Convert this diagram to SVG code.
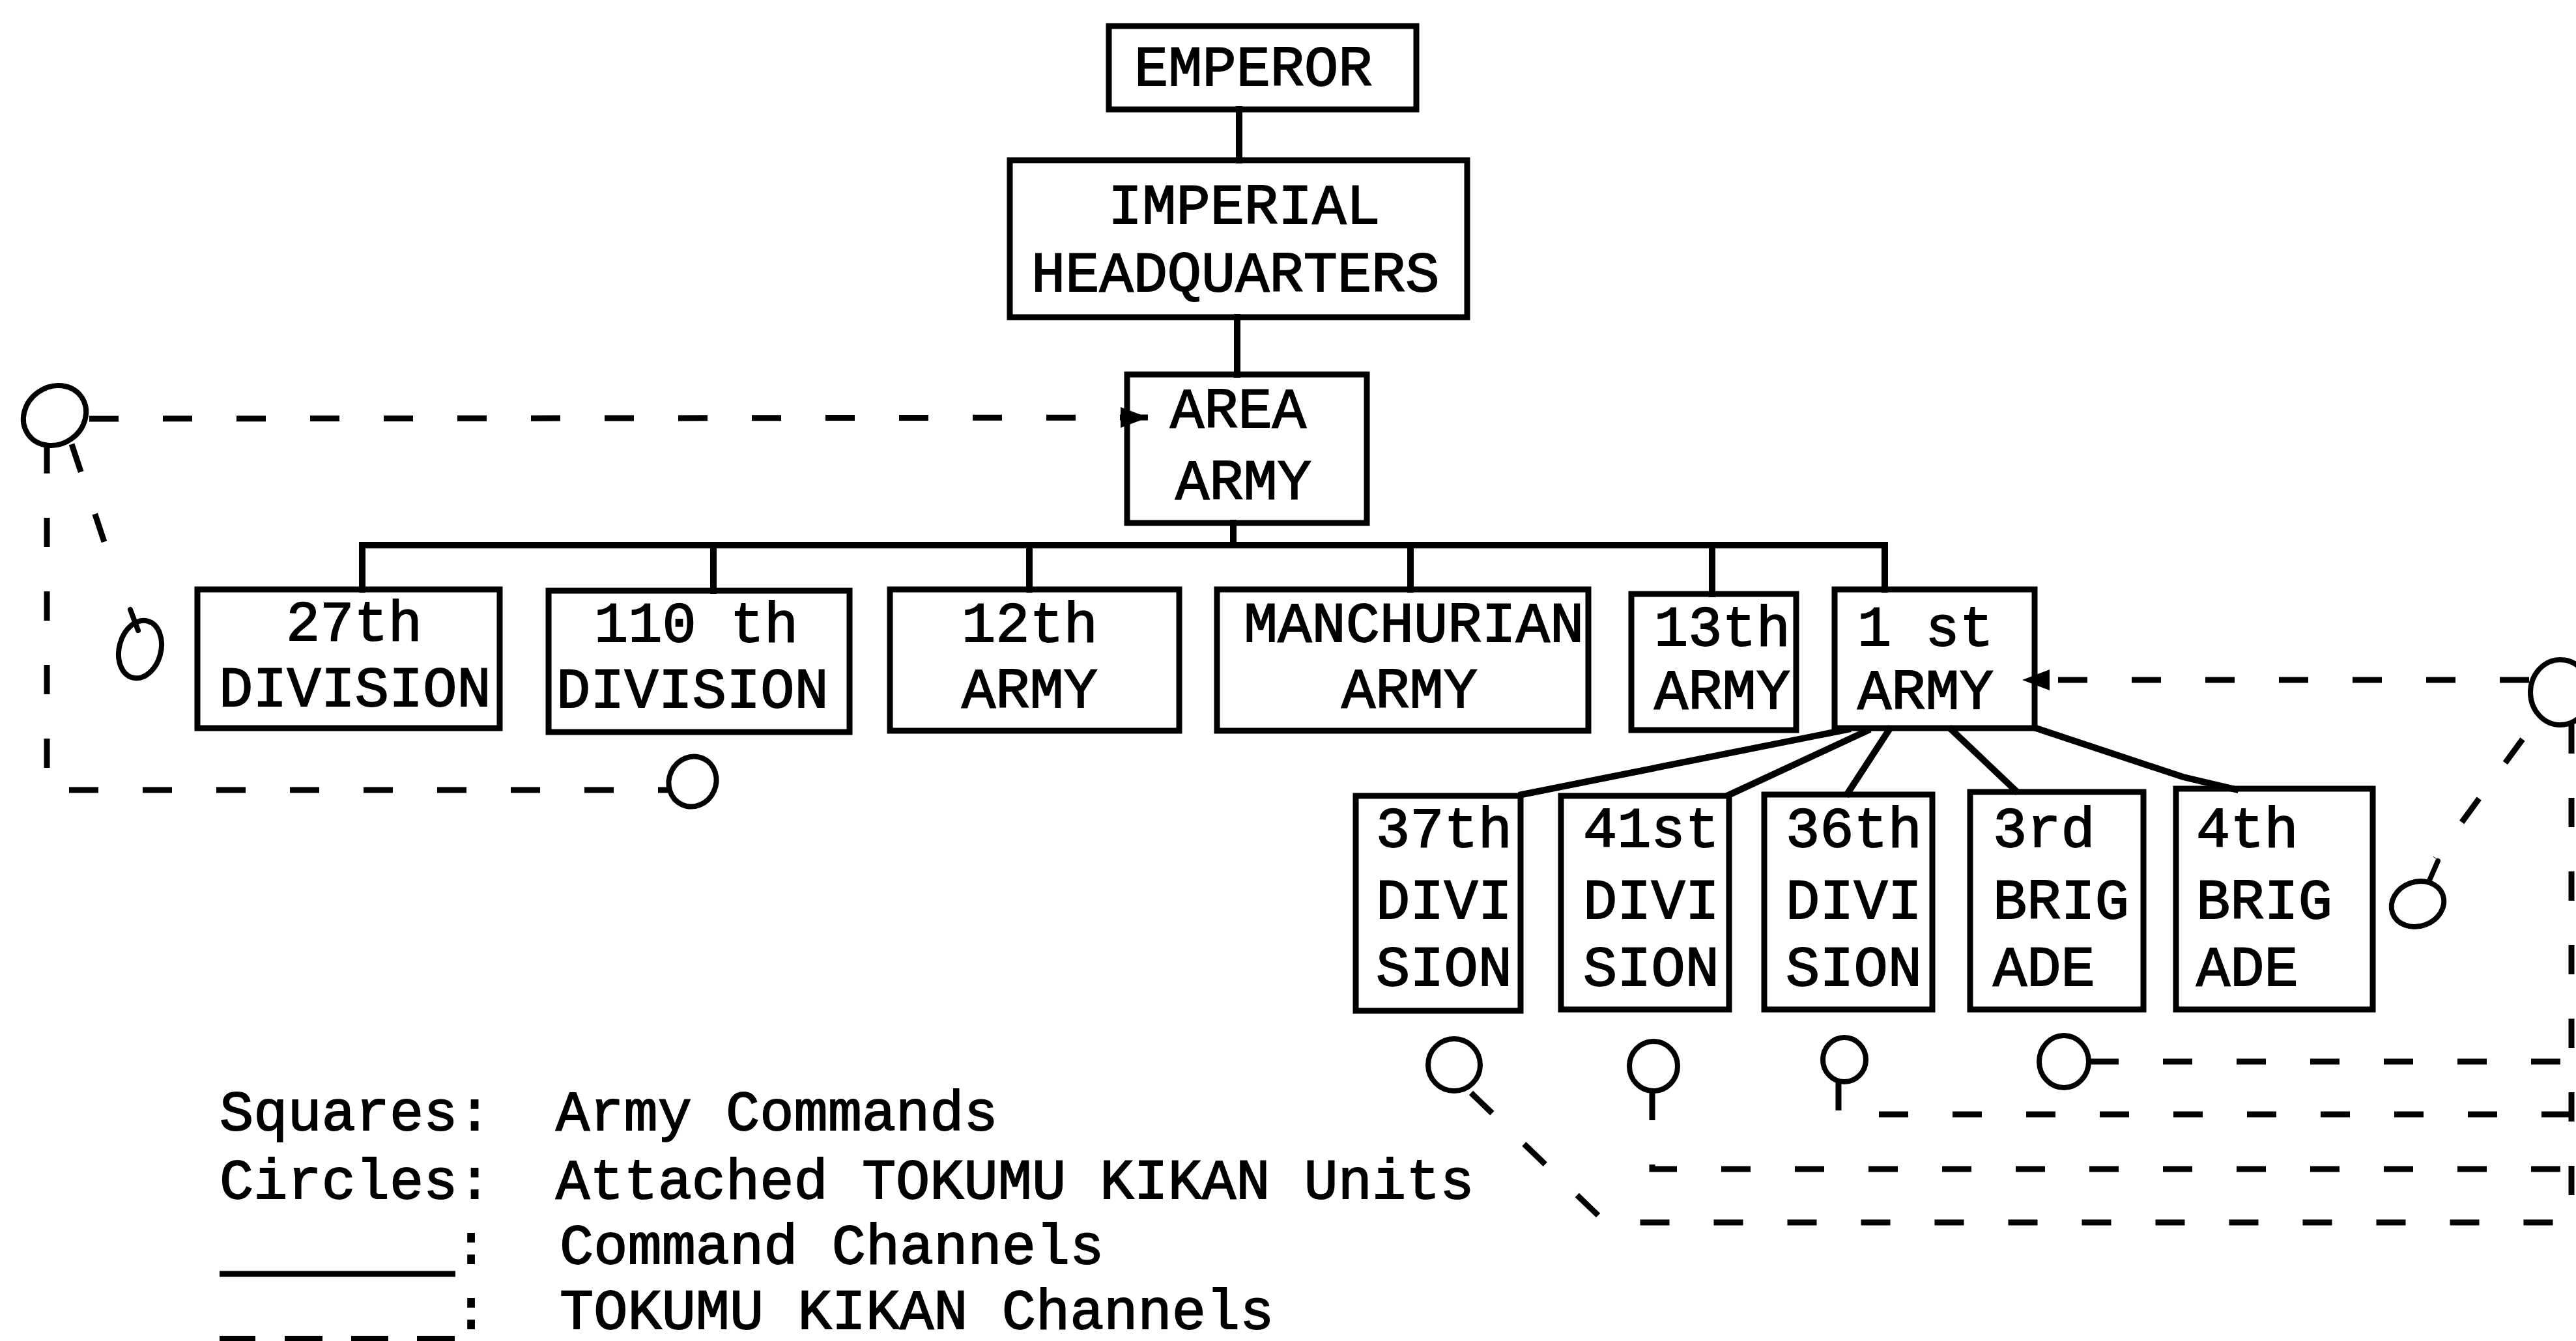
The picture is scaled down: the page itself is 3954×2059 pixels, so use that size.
<svg xmlns="http://www.w3.org/2000/svg" width="3954" height="2059" viewBox="0 0 3954 2059">
<style>
.bg{fill:#fff}
.box{fill:none;stroke:#000;stroke-width:9;stroke-linejoin:miter}
.cmd{fill:none;stroke:#000;stroke-width:10;stroke-linecap:square}
.tk{fill:none;stroke:#000;stroke-width:9;stroke-dasharray:45 68}
.circ{fill:none;stroke:#000;stroke-width:8}
.tick{fill:none;stroke:#000;stroke-width:8;stroke-linecap:round}
text{font-family:"Liberation Mono","DejaVu Sans Mono",monospace;font-size:87px;fill:#000;stroke:#000;stroke-width:1.8}
</style>
<defs>
<marker id="arr" markerUnits="userSpaceOnUse" markerWidth="46" markerHeight="40" refX="42" refY="20" orient="auto">
<path d="M0,4 L42,20 L0,36 Z" fill="#000"/>
</marker>
</defs>
<rect class="bg" x="0" y="0" width="3954" height="2059"/>

<g id="connectors">
<!-- command channels -->
<line class="cmd" x1="1902" y1="168" x2="1902" y2="246"/>
<line class="cmd" x1="1899" y1="487" x2="1899" y2="575"/>
<line class="cmd" x1="1893" y1="803" x2="1893" y2="837"/>
<line class="cmd" x1="556" y1="837" x2="2893" y2="837"/>
<line class="cmd" x1="556" y1="837" x2="556" y2="905"/>
<line class="cmd" x1="1095" y1="837" x2="1095" y2="907"/>
<line class="cmd" x1="1580" y1="837" x2="1580" y2="905"/>
<line class="cmd" x1="2165" y1="837" x2="2165" y2="905"/>
<line class="cmd" x1="2628" y1="837" x2="2628" y2="912"/>
<line class="cmd" x1="2893" y1="837" x2="2893" y2="905"/>
<line class="cmd" x1="2836" y1="1120" x2="2336" y2="1220"/>
<line class="cmd" x1="2866" y1="1122" x2="2655" y2="1220"/>
<line class="cmd" x1="2900" y1="1120" x2="2836" y2="1218"/>
<line class="cmd" x1="2995" y1="1120" x2="3094" y2="1214"/>
<polyline class="cmd" points="3125,1118 3351,1193 3431,1212"/>
<!-- TOKUMU KIKAN channels -->
<line class="tk" x1="137" y1="643" x2="1762" y2="641" marker-end="url(#arr)"/>
<line class="tk" x1="3882" y1="1044" x2="3104" y2="1044" marker-end="url(#arr)"/>
<path class="tk" d="M72,682 V1213 H1025"/>
<path class="tk" d="M110,682 L180,892"/>
<path class="tk" d="M3872,1135 L3738,1318"/>
<path class="tk" d="M3947,1112 V1880"/>
<path class="tk" d="M2258,1678 L2455,1868 L2468,1877 H3954"/>
<path class="tk" d="M2536,1675 V1795 H3954"/>
<path class="tk" d="M2822,1660 V1711 H3954"/>
<path class="tk" d="M3207,1630 H3954"/>
</g>

<g id="emperor">
<rect class="box" x="1702" y="40" width="472" height="128"/>
<text x="1741" y="131">EMPEROR</text>
</g>
<g id="imperial-hq">
<rect class="box" x="1550" y="246" width="702" height="241"/>
<text x="1701" y="343">IMPERIAL</text>
<text x="1583" y="447">HEADQUARTERS</text>
</g>
<g id="area-army">
<rect class="box" x="1730" y="575" width="368" height="228"/>
<text x="1796" y="656">AREA</text>
<text x="1804" y="766">ARMY</text>
</g>

<g id="div27">
<rect class="box" x="303" y="905" width="464" height="213"/>
<text x="439" y="983">27th</text>
<text x="336" y="1084">DIVISION</text>
</g>
<g id="div110">
<rect class="box" x="842" y="907" width="462" height="217"/>
<text x="912" y="985">110 th</text>
<text x="854" y="1086">DIVISION</text>
</g>
<g id="army12">
<rect class="box" x="1366" y="905" width="444" height="217"/>
<text x="1476" y="985">12th</text>
<text x="1476" y="1086">ARMY</text>
</g>
<g id="manchurian-army">
<rect class="box" x="1868" y="905" width="570" height="217"/>
<text x="1909" y="985">MANCHURIAN</text>
<text x="2059" y="1086">ARMY</text>
</g>
<g id="army13">
<rect class="box" x="2504" y="912" width="253" height="209"/>
<text x="2539" y="991">13th</text>
<text x="2539" y="1088">ARMY</text>
</g>
<g id="army1">
<rect class="box" x="2816" y="905" width="307" height="213"/>
<text x="2851" y="991">1 st</text>
<text x="2851" y="1088">ARMY</text>
</g>

<g id="div37">
<rect class="box" x="2081" y="1222" width="253" height="330"/>
<text x="2112" y="1300">37th</text>
<text x="2112" y="1410">DIVI</text>
<text x="2112" y="1513">SION</text>
</g>
<g id="div41">
<rect class="box" x="2396" y="1222" width="258" height="328"/>
<text x="2430" y="1300">41st</text>
<text x="2430" y="1410">DIVI</text>
<text x="2430" y="1513">SION</text>
</g>
<g id="div36">
<rect class="box" x="2708" y="1220" width="258" height="330"/>
<text x="2741" y="1300">36th</text>
<text x="2741" y="1410">DIVI</text>
<text x="2741" y="1513">SION</text>
</g>
<g id="brig3">
<rect class="box" x="3024" y="1216" width="266" height="334"/>
<text x="3059" y="1300">3rd</text>
<text x="3059" y="1410">BRIG</text>
<text x="3059" y="1513">ADE</text>
</g>
<g id="brig4">
<rect class="box" x="3340" y="1211" width="302" height="339"/>
<text x="3371" y="1300">4th</text>
<text x="3371" y="1410">BRIG</text>
<text x="3371" y="1513">ADE</text>
</g>

<!-- TOKUMU KIKAN units -->
<g id="tk-area"><ellipse class="circ" cx="84" cy="638" rx="50" ry="44" transform="rotate(-35 84 638)"/></g>
<g id="tk-27"><ellipse class="circ" cx="215" cy="997" rx="32" ry="45" transform="rotate(15 215 997)"/><path class="tick" d="M200,936 L212,968"/></g>
<g id="tk-110"><ellipse class="circ" cx="1063" cy="1200" rx="36" ry="39" transform="rotate(25 1063 1200)"/></g>
<g id="tk-1"><ellipse class="circ" cx="3930" cy="1063" rx="46" ry="50"/></g>
<g id="tk-4"><ellipse class="circ" cx="3711" cy="1388" rx="41" ry="34" transform="rotate(-20 3711 1388)"/><path class="tick" d="M3728,1354 L3742,1322"/></g>
<g id="tk-37"><ellipse class="circ" cx="2232" cy="1635" rx="40" ry="40"/></g>
<g id="tk-41"><ellipse class="circ" cx="2538" cy="1637" rx="37" ry="38"/></g>
<g id="tk-36"><ellipse class="circ" cx="2831" cy="1627" rx="33" ry="34"/></g>
<g id="tk-3"><ellipse class="circ" cx="3168" cy="1630" rx="38" ry="40"/></g>

<g id="legend">
<text x="337" y="1735">Squares:</text>
<text x="853" y="1735">Army Commands</text>
<text x="337" y="1840">Circles:</text>
<text x="853" y="1840">Attached TOKUMU KIKAN Units</text>
<line x1="337" y1="1956" x2="699" y2="1956" stroke="#000" stroke-width="9"/>
<text x="697" y="1940">:</text>
<text x="859" y="1940">Command Channels</text>
<path d="M337,2056 H392 M437,2056 H495 M539,2056 H596 M640,2056 H698" stroke="#000" stroke-width="10"/>
<text x="697" y="2040">:</text>
<text x="859" y="2040">TOKUMU KIKAN Channels</text>
</g>
</svg>
